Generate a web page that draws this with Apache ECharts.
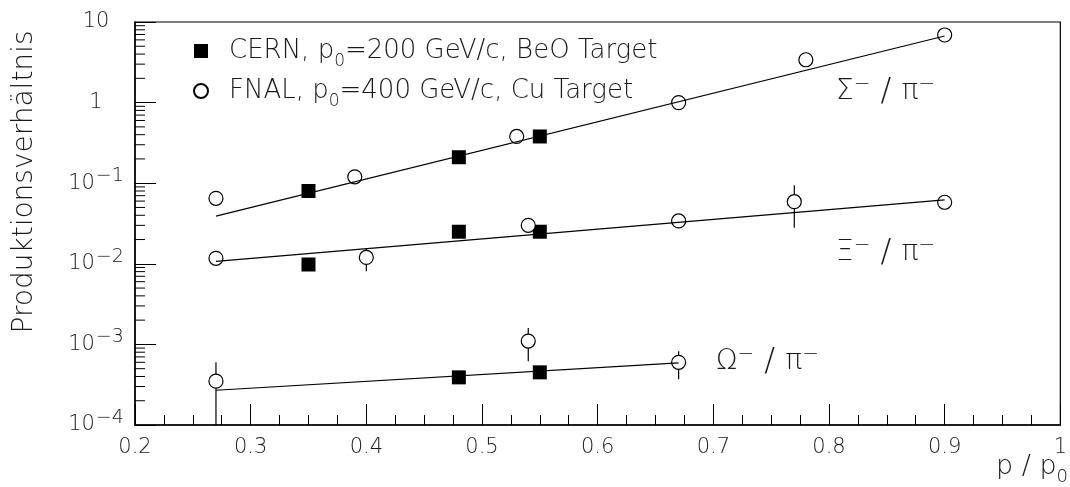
<!DOCTYPE html>
<html lang="de">
<head>
    <meta charset="UTF-8">
    <title>Produktionsverhältnis</title>
    <script src="https://cdn.jsdelivr.net/npm/echarts@6/dist/echarts.min.js"></script>
</head>
<style>
html,body{margin:0;padding:0;background-color:#fff}
#chartBox{width:1070px;height:487px}
</style>
<body>
    <div id="chartBox"></div>
</body>
<script>
// Messpunkte CERN (Quadrate)
var cernSigmaX = [0.35, 0.48, 0.55];
var cernSigma  = [0.080, 0.21, 0.38];
var cernXiX    = [0.35, 0.48, 0.55];
var cernXi     = [0.0098, 0.025, 0.025];
var cernOmegaX = [0.48, 0.55];
var cernOmega  = [0.00039, 0.00045];
// Messpunkte FNAL (Kreise)
var fnalSigmaX = [0.27, 0.39, 0.53, 0.67, 0.78, 0.90];
var fnalSigma  = [0.065, 0.12, 0.38, 1.0, 3.4, 6.9];
var fnalXiX    = [0.27, 0.40, 0.54, 0.67, 0.77, 0.90];
var fnalXi     = [0.0117, 0.012, 0.030, 0.034, 0.059, 0.058];
var fnalOmegaX = [0.27, 0.54, 0.67];
var fnalOmega  = [0.00035, 0.0011, 0.00060];
// Fehlerbalken (FNAL)
var errX  = [0.40, 0.77, 0.27, 0.54, 0.67];
var errLo = [0.0081, 0.028, 0.0001, 0.00062, 0.00037];
var errHi = [0.0156, 0.094, 0.00060, 0.0016, 0.00082];
// Ausgleichsgeraden
var fitSigmaX = [0.27, 0.90];
var fitSigma  = [0.039, 6.7];
var fitXiX    = [0.27, 0.90];
var fitXi     = [0.0107, 0.062];
var fitOmegaX = [0.27, 0.67];
var fitOmega  = [0.00027, 0.00059];
// Achsen
var xTicks = [0.2, 0.3, 0.4, 0.5, 0.6, 0.7, 0.8, 0.9, 1];
var yDecades = [0.0001, 0.001, 0.01, 0.1, 1, 10];

var FONT = 'DejaVu Sans';
var TXT = '#1a1a1a';

function pairs(xs, ys){
    return xs.map(function(x, i){ return [x, ys[i]]; });
}

// kleine Striche 2..9 pro Dekade (log-Achse)
var yMinor = [];
yDecades.slice(0, -1).forEach(function(d){
    for (var k = 2; k <= 9; k++) yMinor.push([0.2, k * d]);
});

function generateChartOption(){
    return {
        animation: false,
        grid: {
            show: true,
            left: 135, top: 22, right: 1, bottom: 62,
            borderColor: '#000',
            borderWidth: 1.2,
            backgroundColor: 'transparent'
        },
        legend: {
            orient: 'vertical',
            left: 188,
            top: 33,
            itemWidth: 14,
            itemHeight: 14,
            itemGap: 8,
            data: [
                {name: 'CERN', icon: 'rect'},
                {name: 'FNAL', icon: 'circle'}
            ],
            formatter: function(name){
                if (name === 'CERN') return '{t|CERN, p}{s|0}{t|=200 GeV/c, BeO Target}';
                return '{t|FNAL, p}{s|0}{t|=400 GeV/c, Cu Target}';
            },
            textStyle: {
                padding: [0, 0, 0, 16],
                rich: {
                    t: {fontFamily: FONT, fontWeight: 200, fontSize: 26, color: TXT},
                    s: {fontFamily: FONT, fontWeight: 200, fontSize: 17, color: TXT, verticalAlign: 'bottom', padding: [0, 0, -6, 0]}
                }
            }
        },
        xAxis: {
            type: 'value',
            min: 0.2,
            max: 1,
            interval: 0.1,
            axisLine: {lineStyle: {color: '#000', width: 1.5}},
            axisTick: {inside: true, length: 21, lineStyle: {color: '#000', width: 1}},
            minorTick: {show: true, splitNumber: 4, length: 10, lineStyle: {color: '#000', width: 1}},
            splitLine: {show: false},
            axisLabel: {
                fontFamily: FONT, fontWeight: 200, fontSize: 21, color: TXT, margin: 12,
                showMaxLabel: true,
                formatter: function(v){ return v === 1 ? '1' : v.toFixed(1); }
            }
        },
        yAxis: {
            type: 'log',
            logBase: 10,
            min: 0.0001,
            max: 10,
            axisLine: {lineStyle: {color: '#000', width: 1.5}},
            axisTick: {inside: true, length: 21, lineStyle: {color: '#000', width: 1}},
            splitLine: {show: false},
            axisLabel: {
                margin: 39,
                align: 'center',
                formatter: function(v){
                    var e = Math.round(Math.log10(v));
                    if (e === 1) return '{b|10}';
                    if (e === 0) return '{b|1}';
                    return '{b|10}{p|−' + (-e) + '}';
                },
                rich: {
                    b: {fontFamily: FONT, fontWeight: 200, fontSize: 21, color: TXT},
                    p: {fontFamily: FONT, fontWeight: 200, fontSize: 19, color: TXT, verticalAlign: 'top', padding: [0, 0, 14, 1]}
                }
            }
        },
        graphic: [
            {
                type: 'text', x: 25, y: 182, rotation: Math.PI / 2,
                style: {text: 'Produktionsverhältnis', font: '200 28px "DejaVu Sans"', fill: TXT,
                        align: 'center', verticalAlign: 'middle'}
            },
            {
                type: 'text', x: 1068, y: 467,
                style: {
                    text: '{t|p / p}{s|0}',
                    align: 'right', verticalAlign: 'middle',
                    rich: {
                        t: {fontFamily: FONT, fontWeight: 200, fontSize: 27, fill: TXT},
                        s: {fontFamily: FONT, fontWeight: 200, fontSize: 18, fill: TXT, verticalAlign: 'bottom', padding: [0, 0, -6, 0]}
                    }
                }
            },
            annot(836, 92, 'Σ'),
            annot(836, 253, 'Ξ'),
            annot(716, 362, 'Ω')
        ],
        series: [
            {
                type: 'custom',
                name: 'err',
                z: 1,
                silent: true,
                data: errX.map(function(x, i){ return [x, errLo[i], errHi[i]]; }),
                renderItem: function(params, api){
                    var a = api.coord([api.value(0), api.value(1)]);
                    var b = api.coord([api.value(0), api.value(2)]);
                    return {type: 'line', shape: {x1: a[0], y1: a[1], x2: b[0], y2: b[1]},
                            style: {stroke: '#000', lineWidth: 1.2}};
                }
            },
            {
                type: 'custom',
                name: 'yminor',
                silent: true,
                z: 1,
                data: yMinor,
                renderItem: function(params, api){
                    var p = api.coord([api.value(0), api.value(1)]);
                    return {type: 'line', shape: {x1: p[0], y1: p[1], x2: p[0] + 10, y2: p[1]},
                            style: {stroke: '#000', lineWidth: 1}};
                }
            },
            {
                type: 'scatter',
                name: 'CERN',
                z: 3,
                symbol: 'rect',
                symbolSize: 14,
                itemStyle: {color: '#000', opacity: 1},
                data: pairs(cernSigmaX, cernSigma).concat(pairs(cernXiX, cernXi), pairs(cernOmegaX, cernOmega))
            },
            {
                type: 'scatter',
                name: 'FNAL',
                z: 3,
                symbol: 'circle',
                symbolSize: 14,
                itemStyle: {color: '#fff', borderColor: '#000', borderWidth: 1.2, opacity: 1},
                data: pairs(fnalSigmaX, fnalSigma).concat(pairs(fnalXiX, fnalXi), pairs(fnalOmegaX, fnalOmega))
            },
            fitLine(fitSigmaX, fitSigma),
            fitLine(fitXiX, fitXi),
            fitLine(fitOmegaX, fitOmega)
        ]
    };
}

function fitLine(xs, ys){
    return {
        type: 'line',
        z: 4,
        symbol: 'none',
        silent: true,
        lineStyle: {color: '#000', width: 1.2},
        data: pairs(xs, ys)
    };
}

function annot(x, y, letter){
    return {
        type: 'text', x: x, y: y,
        style: {
            text: '{g|' + letter + '}{s|−}{l| / }{g|π}{s|−}',
            verticalAlign: 'middle',
            rich: {
                g: {fontFamily: FONT, fontWeight: 200, fontSize: 28, fill: TXT},
                l: {fontFamily: FONT, fontWeight: 200, fontSize: 32, fill: TXT},
                s: {fontFamily: FONT, fontWeight: 200, fontSize: 20, fill: TXT, verticalAlign: 'top', padding: [0, 0, 14, 0]}
            }
        }
    };
}

var chartObj = echarts.init(document.getElementById('chartBox'));
chartObj.setOption(generateChartOption());
</script>
</html>
